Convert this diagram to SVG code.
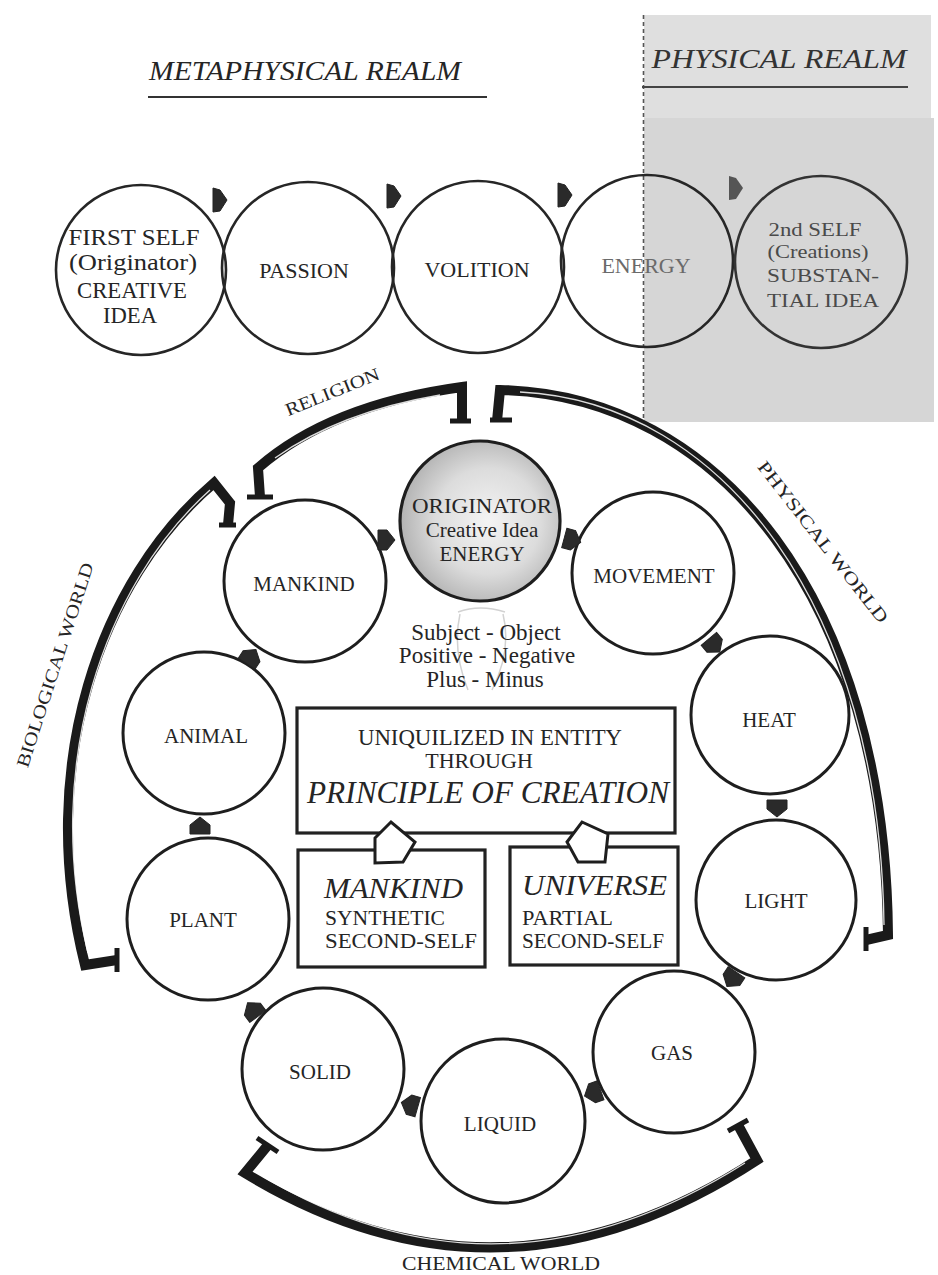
<svg xmlns="http://www.w3.org/2000/svg" width="938" height="1275" viewBox="0 0 938 1275" font-family="'Liberation Serif', 'DejaVu Serif', 'Times New Roman', serif">
<style>
text{fill:#252525;text-anchor:middle}
.tc{fill:none;stroke:#262626;stroke-width:2.6}
.rc{fill:#fff;stroke:#1e1e1e;stroke-width:3}
.box{fill:#fff;stroke:#222;stroke-width:3.2}
.lbl{font-size:21px}
.top{font-size:22px}
.it{font-style:italic}
.band{fill:none;stroke:#1a1a1a;stroke-width:10;stroke-linejoin:miter}
.inner{fill:none;stroke:#fff;stroke-width:1.3;opacity:0.85}
.foot{stroke:#1a1a1a;stroke-width:5;fill:none}
.arr{fill:#2a2a2a;stroke:#222;stroke-width:1}
.open{fill:#fff;stroke:#1e1e1e;stroke-width:3;stroke-linejoin:miter}
.world{font-size:18px}
.sec{font-size:19px;fill:#4a4a4a}
</style>
<defs>
<polygon id="ar" points="-8,-10 1,-10 9,0 1,10 -8,10"/>
<polygon id="at" points="-6,-12 1,-10 8,0 1,11 -6,12"/>
<radialGradient id="og" cx="0.55" cy="0.5" r="0.6">
<stop offset="0" stop-color="#f4f4f4"/>
<stop offset="0.55" stop-color="#dcdcdc"/>
<stop offset="1" stop-color="#a9a9a9"/>
</radialGradient>
</defs>
<rect width="938" height="1275" fill="#fff"/>

<g id="physical-realm-area">
<rect x="644" y="15" width="287" height="105" fill="#dfdfdf"/>
<rect x="644" y="118" width="290" height="304" fill="#d6d6d6"/>
<line x1="643.5" y1="15" x2="643.5" y2="422" stroke="#555" stroke-width="1.6" stroke-dasharray="4 3"/>
</g>

<g id="headings">
<text x="305" y="80" class="it" font-size="28" textLength="312" lengthAdjust="spacingAndGlyphs">METAPHYSICAL REALM</text>
<line x1="148" y1="97" x2="487" y2="97" stroke="#333" stroke-width="2"/>
<text x="779" y="68" class="it" font-size="27" textLength="255" lengthAdjust="spacingAndGlyphs" style="fill:#333">PHYSICAL REALM</text>
<line x1="642" y1="87" x2="908" y2="87" stroke="#444" stroke-width="2"/>
</g>

<g id="n-first-self">
<circle class="tc" cx="141" cy="270" r="85"/>
<text x="134" y="245" font-size="23" textLength="131" lengthAdjust="spacingAndGlyphs">FIRST SELF</text>
<text x="133" y="270" font-size="23" textLength="128" lengthAdjust="spacingAndGlyphs">(Originator)</text>
<text x="132" y="298" font-size="23" textLength="110" lengthAdjust="spacingAndGlyphs">CREATIVE</text>
<text x="130" y="323" font-size="23" textLength="54" lengthAdjust="spacingAndGlyphs">IDEA</text>
</g>
<g id="n-passion">
<circle class="tc" cx="308" cy="268" r="86"/>
<text class="top" x="304" y="278">PASSION</text>
</g>
<g id="n-volition">
<circle class="tc" cx="478" cy="267" r="86"/>
<text class="top" x="477" y="277">VOLITION</text>
</g>
<g id="n-energy">
<circle class="tc" cx="647" cy="261" r="86"/>
<text class="top" x="646" y="273" style="fill:#6a6a6a">ENERGY</text>
</g>
<g id="n-second-self">
<circle class="tc" cx="821" cy="262" r="86" style="stroke:#333"/>
<text class="sec" x="815" y="236" textLength="93" lengthAdjust="spacingAndGlyphs">2nd SELF</text>
<text class="sec" x="818" y="258" textLength="101" lengthAdjust="spacingAndGlyphs">(Creations)</text>
<text class="sec" x="823" y="282" textLength="112" lengthAdjust="spacingAndGlyphs">SUBSTAN-</text>
<text class="sec" x="823" y="307" textLength="112" lengthAdjust="spacingAndGlyphs">TIAL IDEA</text>
</g>

<g id="n-originator">
<circle cx="480" cy="521" r="80" fill="url(#og)" stroke="#1e1e1e" stroke-width="3.2"/>
<text x="482" y="513" font-size="22" textLength="140" lengthAdjust="spacingAndGlyphs">ORIGINATOR</text>
<text class="lbl" x="482" y="537">Creative Idea</text>
<text class="lbl" x="482" y="561">ENERGY</text>
</g>
<g id="n-mankind">
<circle class="rc" cx="305" cy="581" r="81"/>
<text class="lbl" x="304" y="591">MANKIND</text>
</g>
<g id="n-movement">
<circle class="rc" cx="653" cy="573" r="81"/>
<text class="lbl" x="654" y="583">MOVEMENT</text>
</g>
<g id="n-heat">
<circle class="rc" cx="770" cy="715" r="79"/>
<text class="lbl" x="769" y="727">HEAT</text>
</g>
<g id="n-light">
<circle class="rc" cx="776" cy="900" r="80"/>
<text class="lbl" x="776" y="908">LIGHT</text>
</g>
<g id="n-gas">
<circle class="rc" cx="674" cy="1052" r="81"/>
<text class="lbl" x="672" y="1060">GAS</text>
</g>
<g id="n-liquid">
<circle class="rc" cx="503" cy="1121" r="82"/>
<text class="lbl" x="500" y="1131">LIQUID</text>
</g>
<g id="n-solid">
<circle class="rc" cx="323" cy="1069" r="81"/>
<text class="lbl" x="320" y="1079">SOLID</text>
</g>
<g id="n-plant">
<circle class="rc" cx="208" cy="919" r="81"/>
<text class="lbl" x="203" y="927">PLANT</text>
</g>
<g id="n-animal">
<circle class="rc" cx="204" cy="733" r="81"/>
<text class="lbl" x="206" y="743">ANIMAL</text>
</g>

<g id="polarities">
<path d="M458,612 Q480,604 505,612 M460,614 Q452,650 468,690 M503,614 Q512,650 492,690" fill="none" stroke="#d2d2d2" stroke-width="1.5"/>
<text x="486" y="640" font-size="23">Subject - Object</text>
<text x="487" y="663" font-size="23">Positive - Negative</text>
<text x="485" y="687" font-size="23">Plus - Minus</text>
</g>

<g id="n-principle">
<rect class="box" x="297" y="708" width="378" height="125"/>
<text x="490" y="745" font-size="23" textLength="264" lengthAdjust="spacingAndGlyphs">UNIQUILIZED IN ENTITY</text>
<text x="479" y="768" font-size="22">THROUGH</text>
<text x="488" y="803" class="it" font-size="31" textLength="362" lengthAdjust="spacingAndGlyphs">PRINCIPLE OF CREATION</text>
</g>
<g id="n-mankind-self">
<rect class="box" x="298" y="850" width="187" height="117"/>
<text x="324" y="898" class="it" font-size="30" style="text-anchor:start" textLength="139" lengthAdjust="spacingAndGlyphs">MANKIND</text>
<text x="325" y="925" font-size="21" style="text-anchor:start" textLength="120" lengthAdjust="spacingAndGlyphs">SYNTHETIC</text>
<text x="325" y="948" font-size="22" style="text-anchor:start" textLength="152" lengthAdjust="spacingAndGlyphs">SECOND-SELF</text>
</g>
<g id="n-universe-self">
<rect class="box" x="510" y="847" width="168" height="118"/>
<text x="522" y="895" class="it" font-size="30" style="text-anchor:start" textLength="145" lengthAdjust="spacingAndGlyphs">UNIVERSE</text>
<text x="522" y="925" font-size="21" style="text-anchor:start" textLength="91" lengthAdjust="spacingAndGlyphs">PARTIAL</text>
<text x="522" y="948" font-size="22" style="text-anchor:start" textLength="142" lengthAdjust="spacingAndGlyphs">SECOND-SELF</text>
</g>

<g id="connectors">
<polygon class="open" points="375,838 391,822 415,842 403,862 375,863"/>
<polygon class="open" points="567,842 582,822 608,834 605,862 578,862"/>

<use href="#at" class="arr" transform="translate(219,200)"/>
<use href="#at" class="arr" transform="translate(393,196)"/>
<use href="#at" class="arr" transform="translate(564,195)"/>
<use href="#at" transform="translate(735,188)" fill="#555"/>

<use href="#ar" class="arr" transform="translate(386,540) rotate(0)"/>
<use href="#ar" class="arr" transform="translate(572,540) rotate(15)"/>
<use href="#ar" class="arr" transform="translate(714,645) rotate(50)"/>
<use href="#ar" class="arr" transform="translate(777,808) rotate(90)"/>
<use href="#ar" class="arr" transform="translate(732,979) rotate(124)"/>
<use href="#ar" class="arr" transform="translate(593,1093) rotate(160)"/>
<use href="#ar" class="arr" transform="translate(410,1105) rotate(196)"/>
<use href="#ar" class="arr" transform="translate(253,1010) rotate(233)"/>
<use href="#ar" class="arr" transform="translate(200,826) rotate(270)"/>
<use href="#ar" class="arr" transform="translate(251,657) rotate(303)"/>

<g id="religion-arc">
<path class="band" d="M260,497 L258,468 Q330,405 462,387 L462,421"/>
<line class="foot" x1="247" y1="497" x2="273" y2="497"/>
<line class="foot" x1="450" y1="421" x2="471" y2="421"/>
<path class="inner" d="M275,458 Q340,412 440,395"/>
</g>
<g id="physical-arc">
<path class="band" d="M497,421 L500,390 C720,395 885,600 888,935 L866,940"/>
<line class="foot" x1="490" y1="420" x2="512" y2="420"/>
<line class="foot" x1="866" y1="927" x2="866" y2="951"/>
<path class="inner" d="M520,392 C725,402 880,610 884,925"/>
</g>
<g id="biological-arc">
<path class="band" d="M228,525 L230,503 L214,483 C100,580 35,765 85,965 L117,960"/>
<line class="foot" x1="219" y1="525" x2="236" y2="525"/>
<line class="foot" x1="117" y1="948" x2="117" y2="972"/>
<path class="inner" d="M210,490 C104,585 42,765 88,953"/>
</g>
<g id="chemical-arc">
<path class="band" d="M268,1145 L245,1173 Q500,1328 757,1160 L738,1125"/>
<line class="foot" x1="257" y1="1138" x2="278" y2="1152"/>
<line class="foot" x1="728" y1="1131" x2="748" y2="1120"/>
<path class="inner" d="M262,1176 Q500,1318 745,1163"/>
</g>
</g>

<g id="world-labels">
<text class="world" font-size="21" transform="translate(332,391) rotate(-22)" y="7" textLength="100" lengthAdjust="spacingAndGlyphs">RELIGION</text>
<text class="world" transform="translate(823,542) rotate(52)" y="6" textLength="200" lengthAdjust="spacingAndGlyphs">PHYSICAL WORLD</text>
<text class="world" transform="translate(55,665) rotate(-72)" y="6" textLength="214" lengthAdjust="spacingAndGlyphs">BIOLOGICAL WORLD</text>
<text class="world" x="501" y="1270" font-size="21" textLength="198" lengthAdjust="spacingAndGlyphs">CHEMICAL WORLD</text>
</g>
</svg>
